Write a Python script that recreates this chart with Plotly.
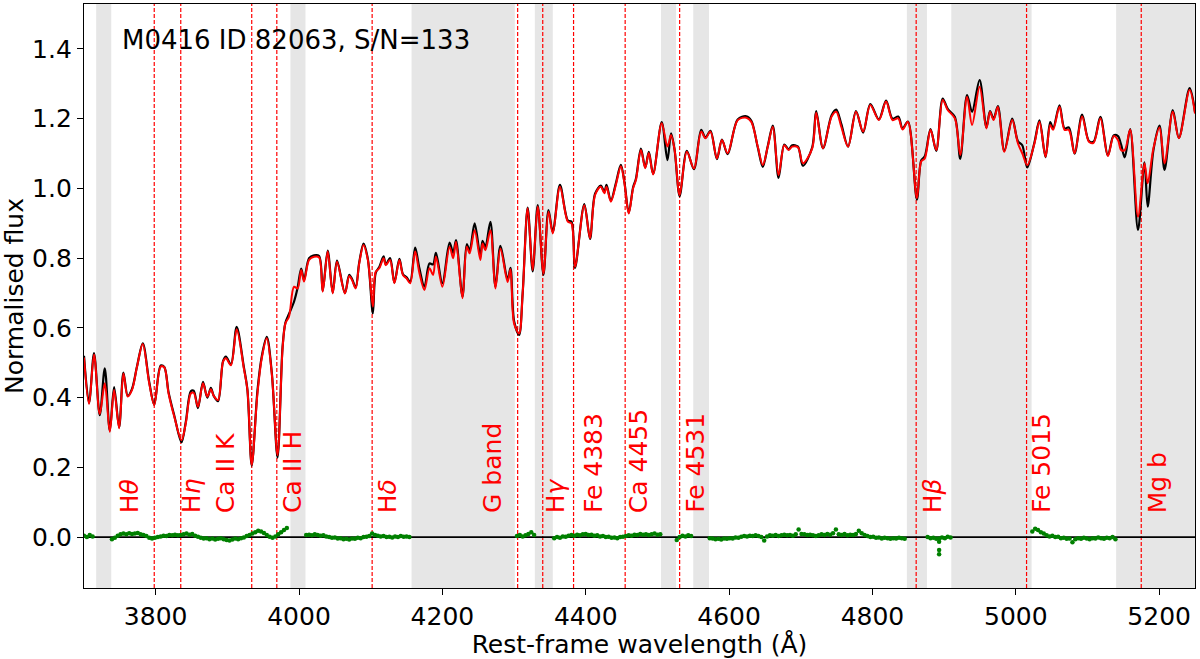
import numpy as np
import plotly.graph_objects as go

# ---------------- data ----------------
wave = [3700, 3707, 3714, 3722, 3729, 3736, 3742, 3749, 3755, 3761, 3767, 3774, 3782, 3791, 3798,
        3807, 3812, 3818, 3826, 3836, 3842, 3849, 3853, 3859, 3866, 3872, 3877, 3881, 3887, 3894,
        3898, 3905, 3913, 3923, 3928, 3934, 3942, 3948, 3955, 3962, 3970, 3977, 3981, 3986, 3993,
        3998, 4003, 4007, 4014, 4021, 4028, 4033, 4040, 4047, 4053, 4064, 4070, 4074, 4079, 4084,
        4090, 4096, 4103, 4107, 4112, 4118, 4121, 4127, 4133, 4140, 4145, 4150, 4155, 4162, 4168,
        4175, 4182, 4187, 4191, 4200, 4210, 4215, 4219, 4228, 4234, 4238, 4245, 4253, 4256, 4260,
        4267, 4274, 4281, 4291, 4295, 4300, 4307, 4312, 4319, 4326, 4333, 4341, 4348, 4354, 4364,
        4375, 4380, 4385, 4398, 4406, 4413, 4421, 4426, 4429, 4435, 4442, 4449, 4454, 4460, 4466,
        4470, 4477, 4483, 4488, 4494, 4506, 4514, 4519, 4524, 4531, 4541, 4551, 4561, 4567, 4574,
        4583, 4590, 4598, 4612, 4624, 4631, 4640, 4647, 4654, 4661, 4669, 4677, 4683, 4688, 4696,
        4703, 4716, 4721.5, 4731, 4743, 4749.5, 4756.5, 4766, 4777, 4787, 4797, 4809, 4819, 4828, 4836,
        4842, 4849.5, 4862, 4868, 4873, 4881, 4889, 4898, 4905, 4915, 4922.5, 4932, 4939, 4949.5, 4959,
        4964, 4969, 4975, 4984, 4995, 5003, 5009, 5016, 5026, 5033, 5041.5, 5048, 5052, 5061, 5068,
        5074, 5082, 5092.5, 5102, 5108.5, 5118, 5128.5, 5136.5, 5142.5, 5147, 5152, 5159.5, 5170.5, 5179.5, 5184,
        5192, 5200.5, 5207.5, 5219, 5227.5, 5242.5, 5250]

model_flux = [0.515, 0.382, 0.524, 0.353, 0.441, 0.302, 0.422, 0.312, 0.469, 0.403, 0.422, 0.489, 0.554, 0.441, 0.379,
              0.489, 0.487, 0.412, 0.345, 0.278, 0.326, 0.412, 0.414, 0.374, 0.441, 0.403, 0.424, 0.405, 0.393, 0.503,
              0.513, 0.493, 0.596, 0.484, 0.422, 0.207, 0.412, 0.513, 0.570, 0.469, 0.235, 0.540, 0.613, 0.632, 0.718,
              0.713, 0.766, 0.733, 0.795, 0.804, 0.802, 0.704, 0.819, 0.699, 0.790, 0.699, 0.749, 0.737, 0.713, 0.785,
              0.838, 0.795, 0.661, 0.761, 0.771, 0.800, 0.780, 0.795, 0.728, 0.795, 0.752, 0.742, 0.728, 0.819, 0.757,
              0.709, 0.771, 0.752, 0.805, 0.718, 0.833, 0.800, 0.847, 0.685, 0.833, 0.814, 0.880, 0.795, 0.842, 0.823,
              0.880, 0.713, 0.828, 0.732, 0.768, 0.613, 0.584, 0.699, 0.943, 0.766, 0.948, 0.756, 0.933, 0.871, 1.005,
              0.905, 0.900, 0.775, 0.952, 0.857, 0.981, 1.005, 0.986, 1.005, 0.962, 1.010, 1.064, 1.015, 0.928, 1.000,
              1.024, 1.110, 1.058, 1.102, 1.040, 1.187, 1.120, 1.153, 1.110, 0.981, 1.105, 1.057, 1.163, 1.144, 1.163,
              1.086, 1.139, 1.101, 1.196, 1.203, 1.191, 1.120, 1.067, 1.120, 1.177, 1.038, 1.124, 1.110, 1.120, 1.118,
              1.072, 1.115, 1.217, 1.115, 1.206, 1.220, 1.177, 1.120, 1.220, 1.163, 1.239, 1.196, 1.249, 1.196, 1.201,
              1.169, 1.191, 0.972, 1.077, 1.086, 1.168, 1.110, 1.254, 1.225, 1.201, 1.096, 1.263, 1.182, 1.292, 1.172,
              1.220, 1.196, 1.234, 1.105, 1.196, 1.129, 1.101, 1.067, 1.129, 1.191, 1.091, 1.182, 1.168, 1.234, 1.168,
              1.168, 1.101, 1.206, 1.134, 1.131, 1.201, 1.093, 1.150, 1.139, 1.110, 1.110, 1.168, 0.919, 1.072, 1.015,
              1.115, 1.175, 1.072, 1.220, 1.144, 1.282, 1.215]

obs_flux = [0.520, 0.385, 0.528, 0.350, 0.484, 0.305, 0.430, 0.315, 0.472, 0.405, 0.425, 0.490, 0.556, 0.445, 0.380,
            0.492, 0.488, 0.415, 0.348, 0.272, 0.330, 0.418, 0.420, 0.370, 0.445, 0.400, 0.428, 0.405, 0.390, 0.505,
            0.518, 0.495, 0.603, 0.488, 0.422, 0.205, 0.420, 0.518, 0.574, 0.472, 0.228, 0.545, 0.615, 0.640, 0.675,
            0.715, 0.770, 0.738, 0.800, 0.808, 0.806, 0.706, 0.822, 0.701, 0.793, 0.700, 0.752, 0.740, 0.716, 0.788,
            0.842, 0.798, 0.642, 0.758, 0.775, 0.805, 0.782, 0.800, 0.730, 0.798, 0.754, 0.745, 0.732, 0.830, 0.770,
            0.718, 0.785, 0.782, 0.815, 0.728, 0.845, 0.815, 0.852, 0.690, 0.840, 0.822, 0.900, 0.805, 0.850, 0.832,
            0.904, 0.718, 0.835, 0.738, 0.772, 0.620, 0.580, 0.700, 0.945, 0.762, 0.952, 0.752, 0.938, 0.875, 1.010,
            0.908, 0.905, 0.772, 0.955, 0.855, 0.985, 1.008, 0.990, 1.010, 0.965, 1.015, 1.068, 1.018, 0.930, 1.003,
            1.028, 1.114, 1.060, 1.105, 1.042, 1.190, 1.081, 1.158, 1.110, 0.978, 1.108, 1.055, 1.168, 1.146, 1.165,
            1.084, 1.140, 1.098, 1.198, 1.207, 1.194, 1.118, 1.062, 1.122, 1.180, 1.030, 1.126, 1.112, 1.124, 1.120,
            1.065, 1.118, 1.222, 1.115, 1.210, 1.226, 1.185, 1.120, 1.222, 1.160, 1.242, 1.198, 1.252, 1.200, 1.206,
            1.172, 1.192, 0.968, 1.080, 1.092, 1.170, 1.108, 1.258, 1.228, 1.205, 1.085, 1.268, 1.220, 1.311, 1.175,
            1.222, 1.200, 1.236, 1.108, 1.200, 1.135, 1.124, 1.060, 1.132, 1.195, 1.090, 1.190, 1.172, 1.238, 1.172,
            1.175, 1.100, 1.212, 1.136, 1.134, 1.205, 1.095, 1.152, 1.150, 1.125, 1.089, 1.170, 0.881, 1.075, 0.948,
            1.110, 1.180, 1.053, 1.225, 1.145, 1.288, 1.220]

# masked (grey) wavelength ranges
mask_lo = [3717, 3988, 4157, 4329, 4505, 4550, 4848, 4910, 5140]
mask_hi = [3738, 4009, 4301, 4354, 4526, 4572, 4876, 5022, 5250]

# spectral features
line_wl = [3798, 3835, 3934, 3969, 4102, 4305, 4340, 4383, 4455, 4531, 4861, 5015, 5175]
line_names = ["H<i>θ</i>", "H<i>η</i>", "Ca II K", "Ca II H", "H<i>δ</i>", "G band", "H<i>γ</i>",
              "Fe 4383", "Ca 4455", "Fe 4531", "H<i>β</i>", "Fe 5015", "Mg b"]
label_wl = [3763, 3850, 3897, 3990, 4123, 4269, 4358, 4410, 4473, 4552, 4884, 5035, 5198]

# residuals (units of 1e-3), on a 4 A grid starting at each segment start
res_start = [3700, 3739, 4010, 4304, 4356, 4527, 4573, 4877, 5023]
res1 = [4, 0, 6, 2]
res2 = [-6, -2, 4, 8, 10, 8, 11, 9, 10, 12, 8, 6, 3, -2, -4, -2,
        0, 2, 4, 3, 6, 5, 7, 5, 6,
        8, 10, 7, 9, 4, 1, -2, -4, -3, -6, -4, -7, -5, -3, -6, -8,
        -10, -7, -4, -6, -3, -1, 3, 6, 10,
        14, 18, 16, 12, 6, 1,
        -2, 2, 8, 14, 20, 26]
res3 = [6, 7, 5, 8, 6, 4, 5, 2, 0, -2, -1, -4, -3, -6, -5, -7, -4, -5, -2, -3,
        0, 1, 3, 10, 6, 4, 2, 3, 0, 1, -1, 2, 0, 3, 1, 2, 0]
res4 = [3, 6, 2, 5, 9, 14, 6]
res5 = [-3, 0, -2, 2, 1, 4, 6, 4, 7, 5, 8, 9, 6, 7, 4, 5, 2, 3, 0, 1,
        -2, -1, -3, 0, 1, 3, 5, 4, 7, 6, 9, 7, 8, 6, 8, 10, 7, 8]
res6 = [-8, 0, 4, 2, 5, 3]
res7 = [-3, -4, -6, -5, -7, -4, -5, -3, -4, -1, -2, 1,
        3, 2, 4, 3, 5, 3, 0, -10, 2, 5, 4, 6, 3, 5, 7, 5, 6, 4, 8, 22,
        9, 8, 6, 7, 5, 3, 5, 8, 6, 9, 7, 11, 22, 8, 6, 9, 5, 7, 6, 9,
        18, 11, 6, 3, 0, 1, -2, -1, -4, -2, -3, -5, -3, -4, -2, -3, -5]
res8 = [0, -3, -2, -5, -4, -1, -3, 1, -1]
res9 = [16, 24, 20, 14, 10, 5, 2, 4, 0, 1, -3, -2, -5, -4, -15, -6, -3, -5, -2, -4,
        -6, -3, -4, -1, -3, -5, -2, -3, 0, -6]
res_extra_wl = [4893, 4893, 4893]
res_extra = [-13, -37, -49]

xticks = [3800, 4000, 4200, 4400, 4600, 4800, 5000, 5200]
yticks = [0.0, 0.2, 0.4, 0.6, 0.8, 1.0, 1.2, 1.4]
title_text = "M0416 ID 82063, S/N=133"

# ---------------- build figure ----------------
res_wl, res_val = [], []
for s, vals in zip(res_start, [res1, res2, res3, res4, res5, res6, res7, res8, res9]):
    res_wl += list(np.arange(s, s + 4 * len(vals), 4))
    res_val += [v / 1000.0 for v in vals]
res_wl += res_extra_wl
res_val += [v / 1000.0 for v in res_extra]

FONT = "DejaVu Sans"
FS = 25

fig = go.Figure()

shapes = []
for lo, hi in zip(mask_lo, mask_hi):
    shapes.append(dict(type="rect", xref="x", yref="paper", x0=lo, x1=hi, y0=0, y1=1,
                       fillcolor="rgb(230,230,230)", line=dict(width=0), layer="below"))
for wl in line_wl:
    shapes.append(dict(type="line", xref="x", yref="paper", x0=wl, x1=wl, y0=0, y1=1,
                       line=dict(color="red", width=1.2, dash="4px,2px"), layer="below"))
shapes.append(dict(type="line", xref="paper", yref="y", x0=0, x1=1, y0=0, y1=0,
                   line=dict(color="black", width=1.6), layer="below"))

fig.add_trace(go.Scatter(x=wave, y=obs_flux, mode="lines",
                         line=dict(color="black", width=2.2, shape="spline", smoothing=0.9),
                         hoverinfo="skip"))
fig.add_trace(go.Scatter(x=wave, y=model_flux, mode="lines",
                         line=dict(color="red", width=2.0, shape="spline", smoothing=0.9),
                         hoverinfo="skip"))
fig.add_trace(go.Scatter(x=res_wl, y=res_val, mode="markers",
                         marker=dict(color="green", size=4.5, line=dict(width=0)),
                         hoverinfo="skip"))

annotations = []
for name, lx in zip(line_names, label_wl):
    annotations.append(dict(x=lx, y=0.063, xref="x", yref="y", text=name, textangle=-90,
                            showarrow=False, xanchor="center", yanchor="bottom",
                            font=dict(family=FONT, size=FS, color="red")))
annotations.append(dict(x=0.032, y=1.425, xref="paper", yref="y", text=title_text,
                        showarrow=False, xanchor="left", yanchor="middle",
                        font=dict(family=FONT, size=26, color="black")))

fig.update_layout(
    width=1200, height=659,
    margin=dict(l=84, r=5, t=4, b=71),
    plot_bgcolor="white", paper_bgcolor="white",
    showlegend=False,
    font=dict(family=FONT, size=FS, color="black"),
    shapes=shapes, annotations=annotations,
)
fig.update_xaxes(range=[3700, 5250], tickvals=xticks, ticks="outside", ticklen=6, tickwidth=1.3,
                 tickcolor="black", showline=True, linecolor="black", linewidth=1.3, mirror=True,
                 showgrid=False, zeroline=False,
                 title=dict(text="Rest-frame wavelength (Å)", standoff=4,
                            font=dict(family=FONT, size=FS)))
fig.update_yaxes(range=[-0.146, 1.529], tickvals=yticks, tickformat=".1f", ticks="outside",
                 ticklen=6, tickwidth=1.3, tickcolor="black", showline=True, linecolor="black",
                 linewidth=1.3, mirror=True, showgrid=False, zeroline=False,
                 title=dict(text="Normalised flux", standoff=4, font=dict(family=FONT, size=FS)))

fig.write_html("out.html")
